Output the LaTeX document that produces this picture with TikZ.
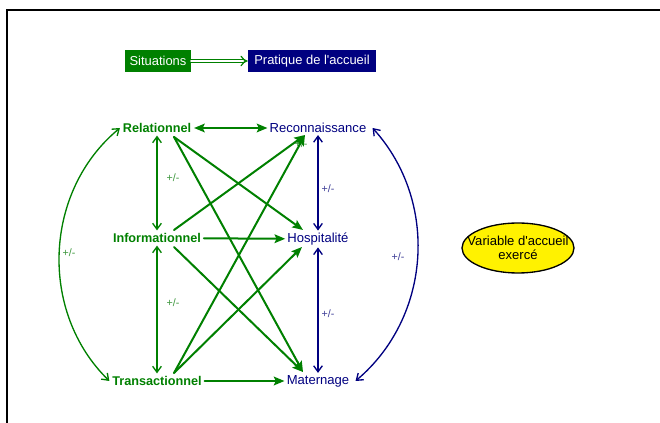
\documentclass[tikz,border=0pt]{standalone}
\usepackage{fontspec}
\setmainfont{Liberation Sans}[Ligatures=TeXOff]
\usetikzlibrary{arrows.meta,shapes.geometric}
\definecolor{sitgreen}{RGB}{0,128,0}
\definecolor{pracnavy}{RGB}{0,0,128}
\definecolor{lblgreen}{RGB}{60,150,60}
\definecolor{lblnavy}{RGB}{60,60,150}
\begin{document}
\begin{tikzpicture}[x=0.75pt,y=-0.75pt,line cap=round,
    >={Stealth[length=8pt,width=6.5pt,inset=1.5pt]},
    sit/.style={text=sitgreen,font=\fontsize{9.5}{11}\selectfont\bfseries,inner sep=2pt},
    prac/.style={text=pracnavy,font=\fontsize{9.8}{11}\selectfont,inner sep=1.5pt},
    boite/.style={text=white,font=\fontsize{9.7}{11}\selectfont,minimum height=16pt,inner sep=0pt},
    fort/.style={line width=1.5pt,->},
    lien/.style={line width=1pt,{Straight Barb[length=4.5pt,width=6.5pt]}-{Straight Barb[length=4.5pt,width=6.5pt]}},
    pm/.style={font=\fontsize{8}{9}\selectfont}]
  \useasboundingbox (0,0) rectangle (660,423);
  \draw[line width=1.5pt,line cap=butt] (7,423) -- (7,10) -- (660,10);

  % legende
  \node[boite,fill=sitgreen,minimum width=49.5pt] (situ) at (158,61) {Situations};
  \node[boite,fill=pracnavy,minimum width=96pt] (prat) at (312,61) {Pratique de l'accueil};
  \draw[sitgreen,line width=0.9pt,double,double distance=1.8pt,-{Implies}] (situ) -- (prat);

  % situations et pratiques
  \node[sit] (rel) at (157,128) {Relationnel};
  \node[sit] (info) at (157,238) {Informationnel};
  \node[sit] (trans) at (157,381) {Transactionnel};
  \node[prac] (recon) at (318,128) {Reconnaissance};
  \node[prac] (hosp) at (318,239) {Hospitalité};
  \node[prac] (mat) at (318,381) {Maternage};
  \node[ellipse,draw=black,line width=1pt,fill=yellow,align=center,
        inner xsep=-8.8pt,inner ysep=0pt,minimum width=84pt,minimum height=37.5pt,
        font=\fontsize{9.8}{10.5}\selectfont] (var) at (518,248) {Variable d'accueil\\exercé};

  % +/-
  \node[pm,text=lblgreen] (pm1) at (173,178) {+/-};
  \node[pm,text=lblgreen] (pm2) at (173,303) {+/-};
  \node[pm,text=lblgreen] (pm3) at (69,253) {+/-};
  \node[pm,text=lblgreen] (pm4) at (301,144) {+/-};
  \node[pm,text=lblnavy] (pm5) at (328,189) {+/-};
  \node[pm,text=lblnavy] (pm6) at (328,314) {+/-};
  \node[pm,text=lblnavy] (pm7) at (398,257) {+/-};

  \draw[sitgreen,lien] (rel) -- (info);
  \draw[sitgreen,lien] (info) -- (trans);
  \draw[pracnavy,lien] (recon) -- (hosp);
  \draw[pracnavy,lien] (hosp) -- (mat);
  \draw[sitgreen,lien] (trans.west) to[bend left=48] (rel.west);
  \draw[pracnavy,lien] ([xshift=3]recon.east) to[bend left=46] ([xshift=3]mat.east);

  \draw[sitgreen,fort,<->] (rel) -- (recon);
  \draw[sitgreen,fort] (info) -- (hosp);
  \draw[sitgreen,fort] (trans) -- (mat);
  \foreach \a/\s/\b/\t in {rel/{17,9}/hosp/{-15,-9}, rel/{17,9}/mat/{-15,-9},
      info/{17,-8}/recon/{-13,7}, info/{17,9}/mat/{-15,-9},
      trans/{17,-8}/recon/{-13,7}, trans/{17,-8}/hosp/{-16,8}}
    \draw[sitgreen,fort] ([shift={(\s)}]\a.center) -- ([shift={(\t)}]\b.center);
\end{tikzpicture}
\end{document}
